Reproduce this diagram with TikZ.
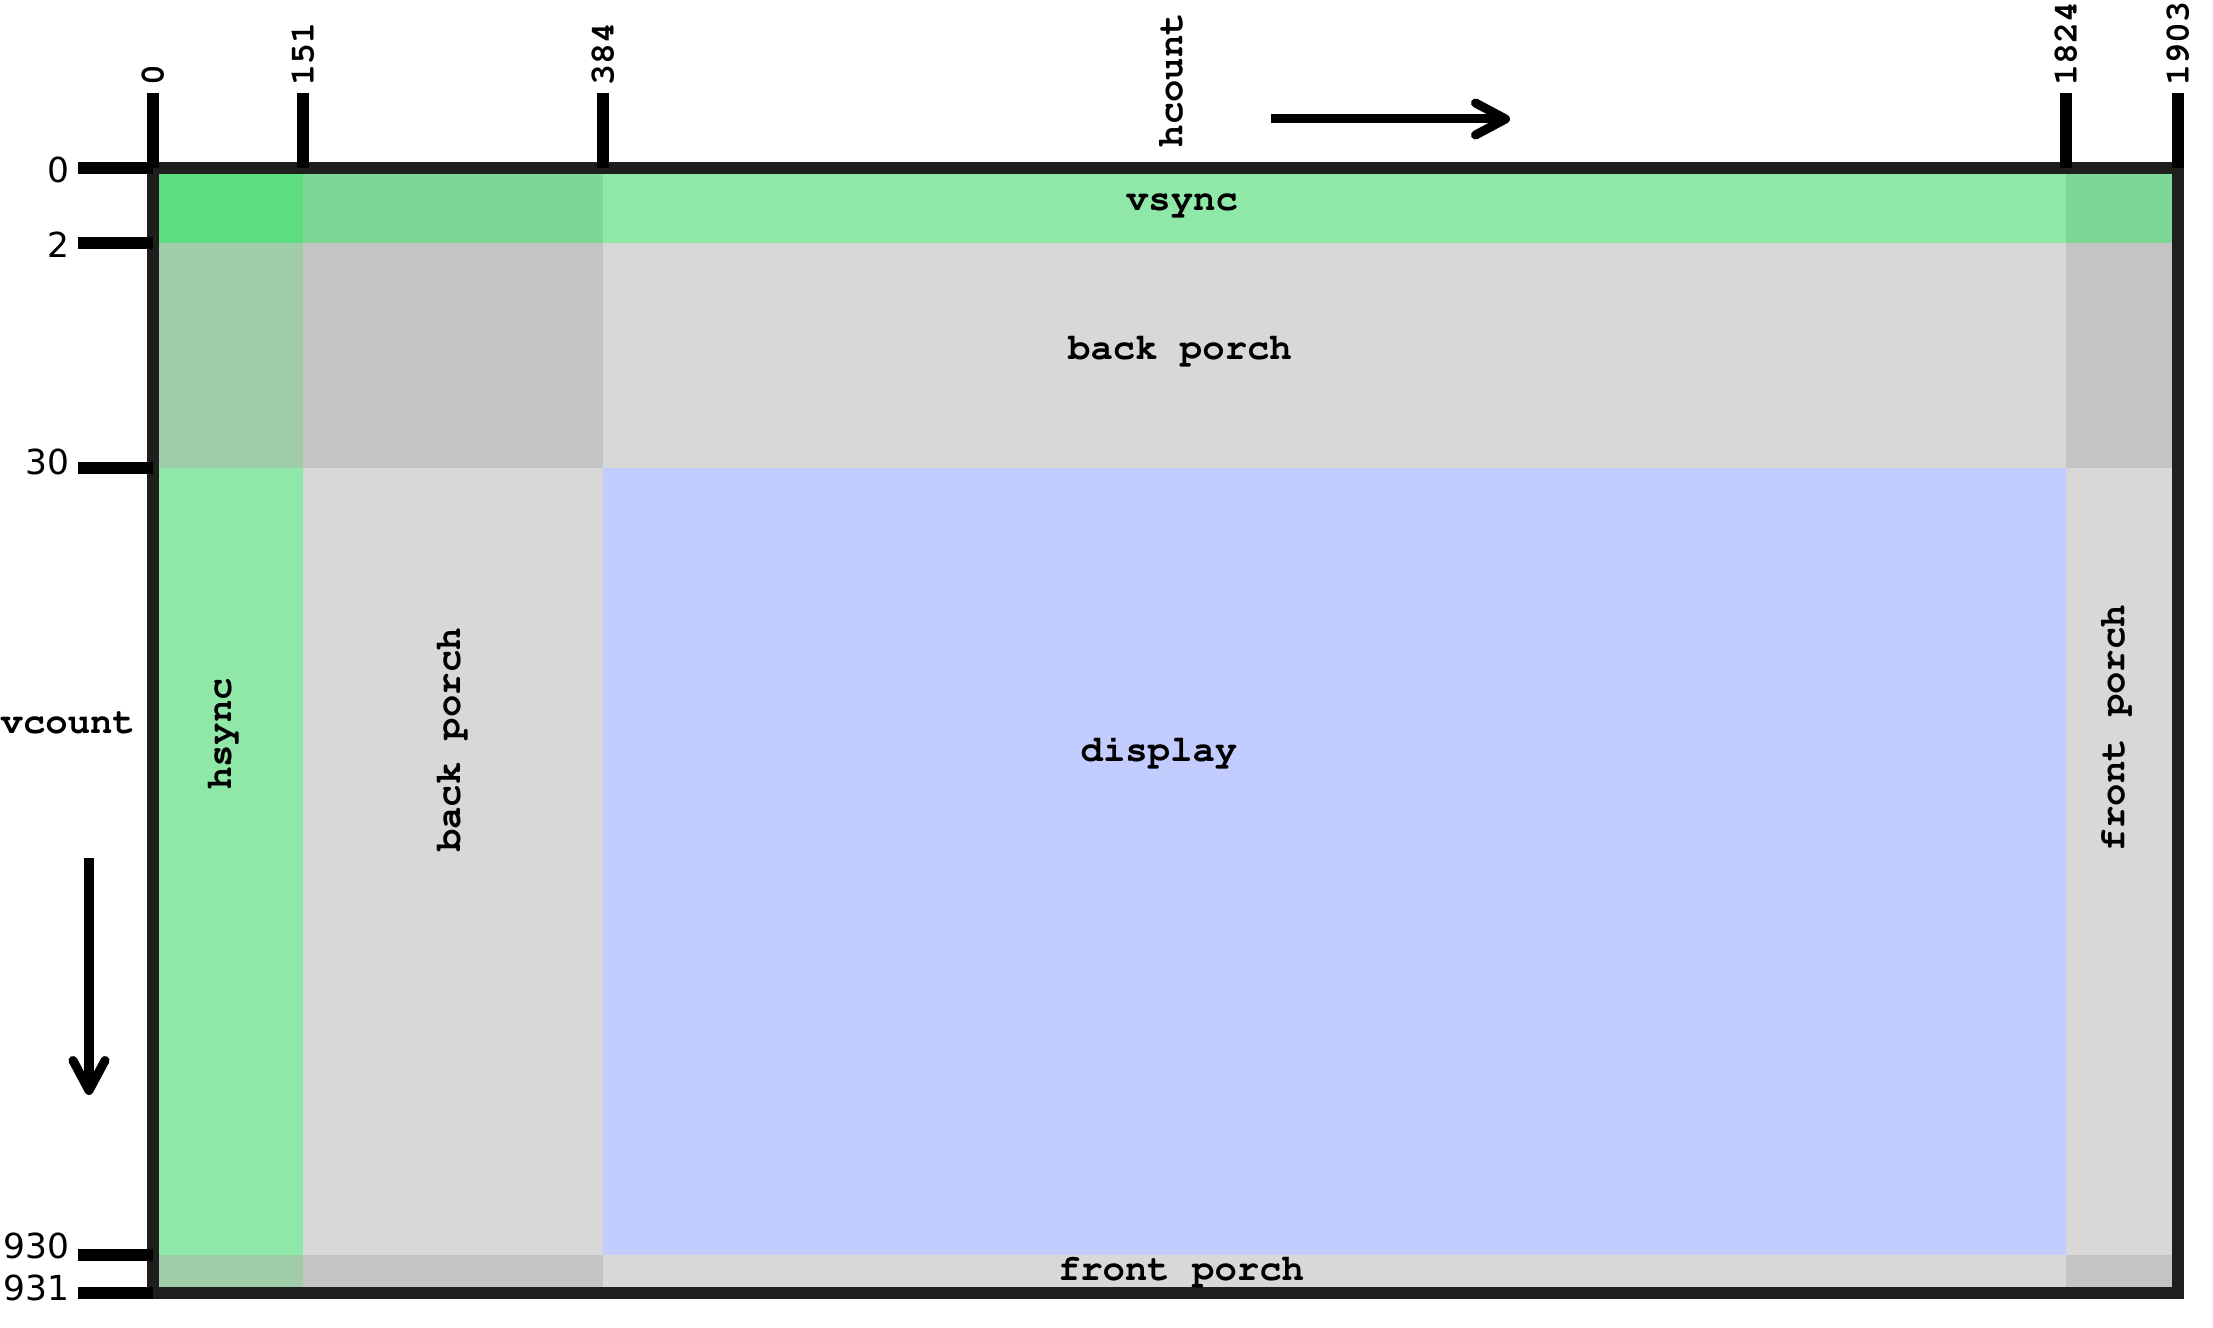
\documentclass[tikz,border=0pt]{standalone}
\usepackage[T1]{fontenc}
\usepackage{fontspec}
\newfontfamily\numfont{DejaVu Sans}
\newcommand\crfont{\usefont{T1}{pcr}{b}{n}}
\usetikzlibrary{arrows.meta}
\definecolor{framecol}{HTML}{1E1E1C}
\definecolor{syncgreen}{HTML}{90E8A8}
\definecolor{syncsync}{HTML}{5CDD80}
\definecolor{syncporch}{HTML}{7ED697}
\definecolor{porchgrey}{HTML}{D8D8D8}
\definecolor{porchporch}{HTML}{C4C4C4}
\definecolor{hsyncporch}{HTML}{A0CCAA}
\definecolor{displayblue}{HTML}{C2CCFF}

\begin{document}
\begin{tikzpicture}[x=0.01cm,y=-0.01cm,frame/.style={draw=framecol,line width=0.12cm},tick/.style={line width=0.12cm},region/.style={font=\crfont\fontsize{10.6}{12}\selectfont,inner sep=0},count/.style={font=\crfont\fontsize{10.6}{12}\selectfont,inner sep=0},toplabel/.style={font=\crfont\fontsize{9.9}{12}\selectfont,inner sep=0,rotate=90,anchor=west},leftlabel/.style={font=\numfont\fontsize{9.8}{11}\selectfont,inner sep=0,anchor=east},arrow/.style={-{Straight Barb[length=0.3cm,width=0.32cm,round]},line width=0.09cm}]
  \useasboundingbox (0,0) rectangle (2213,1328);
  \foreach \xa/\xb/\ya/\yb/\c in {153/303/168/243/syncsync,303/603/168/243/syncporch,603/2066/168/243/syncgreen,2066/2178/168/243/syncporch,
    153/303/243/468/hsyncporch,303/603/243/468/porchporch,603/2066/243/468/porchgrey,2066/2178/243/468/porchporch,
    153/303/468/1255/syncgreen,303/603/468/1255/porchgrey,603/2066/468/1255/displayblue,2066/2178/468/1255/porchgrey,
    153/303/1255/1293/hsyncporch,303/603/1255/1293/porchporch,603/2066/1255/1293/porchgrey,2066/2178/1255/1293/porchporch}
    \fill[\c] (\xa,\ya) rectangle (\xb,\yb);
  \draw[frame] (153,168) rectangle (2178,1293);
  \foreach \x/\t in {153/0,303/151,603/384,2066/1824,2178/1903} {
    \coordinate (ht\t) at (\x,93);
    \coordinate (hb\t) at (\x,168);
    \draw[tick] (ht\t) -- (hb\t);
    \node[toplabel] (hl\t) at (\x,86) {\t};
  }
  \foreach \y/\t/\dy in {168/0/2,243/2/2,468/30/-6,1255/930/-9,1293/931/-5} {
    \coordinate (vt\t) at (78,\y);
    \coordinate (vb\t) at (153,\y);
    \draw[tick] (vt\t) -- (vb\t);
    \node[leftlabel] (vl\t) at (70,\y+\dy) {\t};
  }
  \node[region] (vsync) at (1182,205) {vsync};
  \node[region] (vback) at (1180,350) {back porch};
  \node[region] (display) at (1159,752) {display};
  \node[region] (vfront) at (1181,1271) {front porch};
  \node[region,rotate=90] (hsync) at (222,734) {hsync};
  \node[region,rotate=90] (hback) at (451,740) {back porch};
  \node[region,rotate=90] (hfront) at (2115,728) {front porch};
  \node[count,rotate=90,anchor=west] (hcount) at (1171,148) {hcount};
  \node[count,anchor=west] (vcount) at (0,723) {vcount};
  \coordinate (hstart) at (1271,119);
  \coordinate (hend) at (1510,119);
  \coordinate (vstart) at (89,858);
  \coordinate (vend) at (89,1095);
  \draw[arrow] (hstart) -- (hend);
  \draw[arrow] (vstart) -- (vend);
\end{tikzpicture}
\end{document}
